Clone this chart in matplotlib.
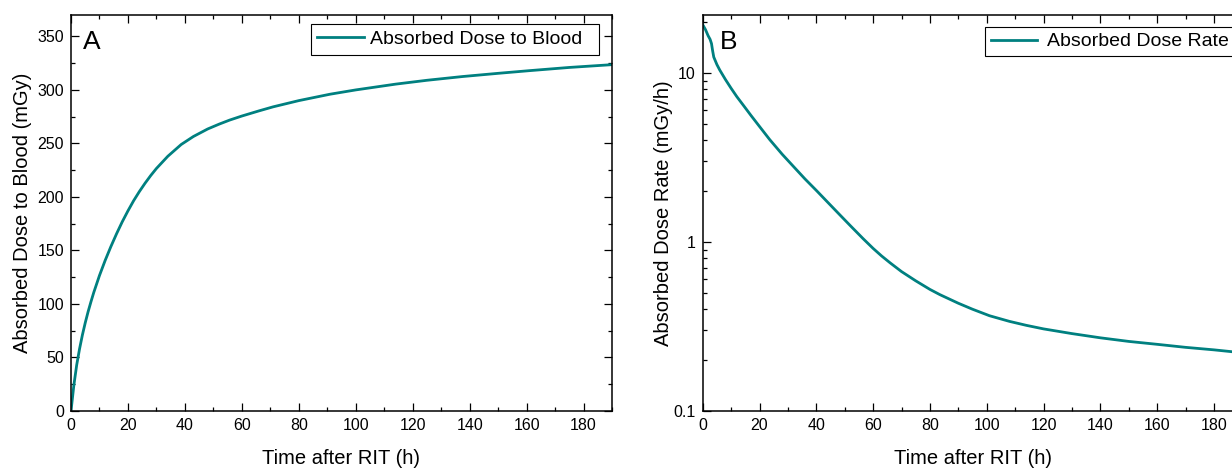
import matplotlib
matplotlib.use("Agg")
import matplotlib.pyplot as plt
from matplotlib.ticker import MultipleLocator, LogLocator, NullFormatter, FixedLocator, FixedFormatter

plt.rcParams['font.family'] = ['Liberation Sans', 'DejaVu Sans']

# Panel A: cumulative absorbed dose to blood (mGy)
t_dose = [0, 1, 2, 3, 4, 5, 6, 7, 8, 10, 12, 14, 16, 18, 20, 22, 24, 26, 28, 30, 34,
          38.7, 43, 48, 52, 55.7, 60, 66, 71, 80, 91, 100, 114, 125, 137.5, 150, 161, 175, 190]
dose = [0, 24, 43, 58, 71, 82.4, 92.7, 102, 110.8, 126.6, 140.7, 153.6, 165.6, 176.8, 187,
        196.5, 205, 212.8, 220, 226.6, 238, 249, 256.5, 263.5, 268, 271.8, 275.6, 280.4, 284.2,
        290, 296, 300, 305.4, 309, 312.5, 315.5, 318, 321, 323.6]

# Panel B: absorbed dose rate (mGy/h)
t_rate = [0, 1, 1.9, 2.6, 3.1, 3.5, 3.9, 5, 6, 8, 10, 12, 14.2, 17, 20, 23.6, 28, 32, 36,
          40.1, 44, 48, 52, 56.5, 60, 63, 66, 70, 75, 80, 83.5, 90, 95, 101, 108, 114, 120,
          130, 140, 150, 160, 170, 180, 190]
rate = [19.3, 18.0, 16.6, 15.8, 14.9, 13.5, 12.4, 11.2, 10.4, 9.14, 8.11, 7.24, 6.47, 5.60,
        4.82, 4.03, 3.30, 2.79, 2.36, 2.01, 1.718, 1.463, 1.247, 1.045, 0.916, 0.826, 0.752,
        0.668, 0.589, 0.524, 0.488, 0.434, 0.400, 0.366, 0.339, 0.321, 0.306, 0.287, 0.271,
        0.258, 0.248, 0.238, 0.230, 0.221]

x_ticks = [0, 20, 40, 60, 80, 100, 120, 140, 160, 180]
xlabel = "Time after RIT (h)"
color = "#008080"

fig = plt.figure(figsize=(12.32, 4.68), dpi=100)
axA = fig.add_axes([71/1232, 57/468, 541/1232, 396/468])
axB = fig.add_axes([702.7/1232, 57/468, 539.6/1232, 396/468])

def style(ax):
    for s in ax.spines.values():
        s.set_linewidth(1.1)
    ax.tick_params(which='both', direction='in', top=True, right=True, labelsize=11.5, width=0.9)
    ax.tick_params(which='major', length=6, pad=5)
    ax.tick_params(which='minor', length=3.2)

# Panel A
axA.plot(t_dose, dose, color=color, lw=2.0, label="Absorbed Dose to Blood  ")
axA.set_xlim(0, 190)
axA.set_ylim(0, 370)
axA.xaxis.set_major_locator(FixedLocator(x_ticks))
axA.xaxis.set_minor_locator(MultipleLocator(10))
axA.yaxis.set_major_locator(MultipleLocator(50))
axA.yaxis.set_minor_locator(MultipleLocator(25))
style(axA)
axA.set_xlabel(xlabel, fontsize=14.5)
axA.set_ylabel("Absorbed Dose to Blood (mGy)", fontsize=14.5)
axA.xaxis.set_label_coords(0.5, -0.095)
axA.yaxis.set_label_coords(-0.072, 0.5)
axA.text(0.022, 0.962, "A", transform=axA.transAxes, fontsize=19, va='top', ha='left')
axA.legend(loc='upper left', bbox_to_anchor=(0.4436, 0.977), fontsize=14, fancybox=False,
           edgecolor='black', framealpha=1, handlelength=2.4, borderpad=0.33,
           handletextpad=0.3, borderaxespad=0).get_frame().set_linewidth(0.8)

# Panel B
axB.plot(t_rate, rate, color=color, lw=2.0, label="Absorbed Dose Rate")
axB.set_yscale('log')
axB.set_xlim(0, 190)
axB.set_ylim(0.1, 22)
axB.xaxis.set_major_locator(FixedLocator(x_ticks))
axB.xaxis.set_minor_locator(MultipleLocator(10))
axB.yaxis.set_major_locator(FixedLocator([0.1, 1, 10]))
axB.yaxis.set_major_formatter(FixedFormatter(["0.1", "1", "10"]))
axB.yaxis.set_minor_locator(LogLocator(base=10, subs=range(2, 10)))
axB.yaxis.set_minor_formatter(NullFormatter())
style(axB)
axB.set_xlabel(xlabel, fontsize=14.5)
axB.set_ylabel("Absorbed Dose Rate (mGy/h)", fontsize=14.5)
axB.xaxis.set_label_coords(0.5, -0.095)
axB.yaxis.set_label_coords(-0.055, 0.5)
axB.text(0.032, 0.962, "B", transform=axB.transAxes, fontsize=19, va='top', ha='left')
axB.legend(loc='upper left', bbox_to_anchor=(0.523, 0.970), fontsize=14, fancybox=False,
           edgecolor='black', framealpha=1, handlelength=2.4, borderpad=0.3,
           handletextpad=0.5, borderaxespad=0).get_frame().set_linewidth(0.8)

fig.savefig("out.png", dpi=100)
